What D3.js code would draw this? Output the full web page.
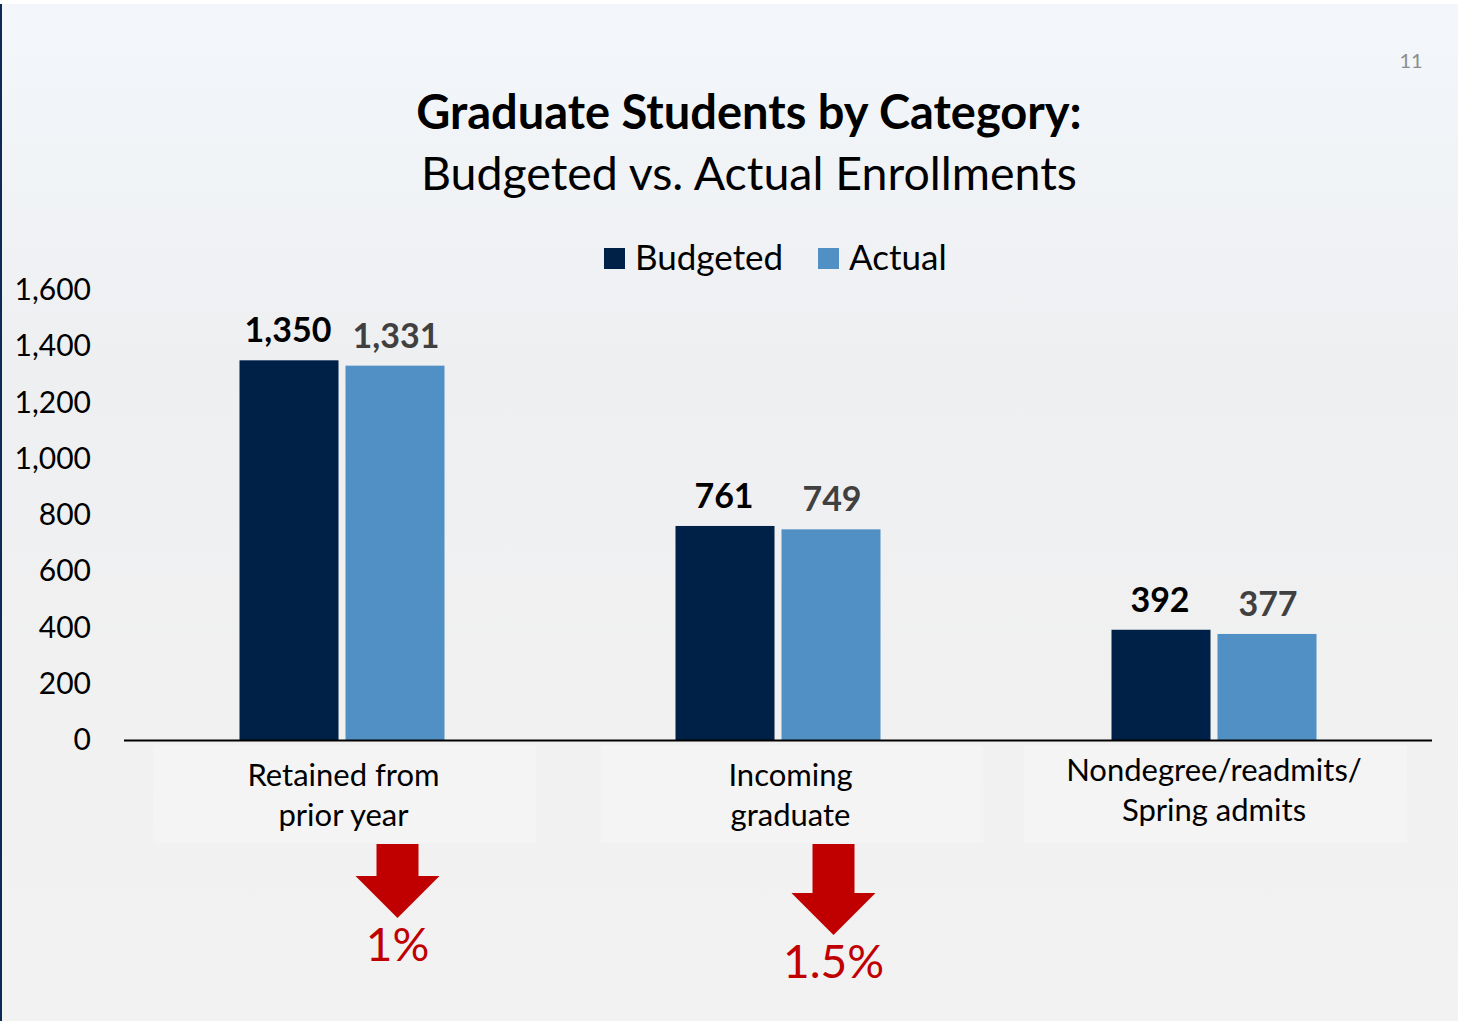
<!DOCTYPE html>
<html>
<head>
<meta charset="utf-8">
<script src="https://cdn.jsdelivr.net/npm/d3@7"></script>
<style>
  html, body { margin: 0; padding: 0; background: #fff; }
  svg { display: block; font-family: Lato, "Noto Sans", sans-serif; }
</style>
</head>
<body>
<script>
// Chart data
var categories = ["Retained from\nprior year", "Incoming\ngraduate", "Nondegree/readmits/\nSpring admits"];
var budgeted = [1350, 761, 392];
var actual = [1331, 749, 377];
var yTicks = [0, 200, 400, 600, 800, 1000, 1200, 1400, 1600];
var changeLabels = ["1%", "1.5%", null];
var seriesNames = ["Budgeted", "Actual"];
var seriesColors = ["#002147", "#5090c4"];

var width = 1458, height = 1021;

var svg = d3.select("body").append("svg")
    .attr("width", width)
    .attr("height", height);

// background gradient like the slide
var defs = svg.append("defs");
var grad = defs.append("linearGradient")
    .attr("id", "bg").attr("x1", 0).attr("y1", 0).attr("x2", 0).attr("y2", 1);
grad.append("stop").attr("offset", "0%").attr("stop-color", "#f3f7fb");
grad.append("stop").attr("offset", "35%").attr("stop-color", "#eeeff1");
grad.append("stop").attr("offset", "70%").attr("stop-color", "#f1f1f1");
grad.append("stop").attr("offset", "100%").attr("stop-color", "#f2f2f2");

svg.append("rect").attr("width", width).attr("height", height).attr("fill", "#fff");
svg.append("rect").attr("x", 0).attr("y", 4).attr("width", width).attr("height", height - 4)
    .attr("fill", "url(#bg)");
svg.append("rect").attr("x", 0).attr("y", 4).attr("width", 2).attr("height", height - 4)
    .attr("fill", "#0b2a55");

// page number
svg.append("text")
    .attr("x", 1411).attr("y", 68)
    .attr("text-anchor", "middle")
    .attr("font-size", 20).attr("fill", "#8c8c8c")
    .text("11");

// title
svg.append("text")
    .attr("x", 749).attr("y", 129)
    .attr("text-anchor", "middle")
    .attr("font-size", 47).attr("font-weight", "bold").attr("fill", "#000")
    .text("Graduate Students by Category:");
svg.append("text")
    .attr("x", 749).attr("y", 190)
    .attr("text-anchor", "middle")
    .attr("font-size", 46.5).attr("fill", "#000")
    .text("Budgeted vs. Actual Enrollments");

// legend
var legend = svg.append("g").attr("transform", "translate(604,248)");
var legendX = [0, 214];
seriesNames.forEach(function(name, i) {
  legend.append("rect")
      .attr("x", legendX[i]).attr("y", 0)
      .attr("width", 21).attr("height", 21)
      .attr("fill", seriesColors[i]);
  legend.append("text")
      .attr("x", legendX[i] + 31).attr("y", 22)
      .attr("font-size", 35).attr("fill", "#000")
      .text(name);
});

// scales
var x0 = d3.scaleBand().domain(categories).range([124, 1432]).paddingInner(0).paddingOuter(0);
var x1 = d3.scaleBand().domain(seriesNames).range([115.5, 436 - 115.5]).paddingInner(0.066);
var y = d3.scaleLinear().domain([0, 1600]).range([740, 290]);

// y axis labels (no axis line)
var yAxis = svg.append("g")
    .attr("transform", "translate(91,0)")
    .call(d3.axisLeft(y).tickValues(yTicks).tickSize(0).tickPadding(0).tickFormat(d3.format(",")));
yAxis.select(".domain").remove();
yAxis.selectAll("text")
    .attr("font-size", 30).attr("fill", "#000")
    .attr("font-family", "Lato, 'Noto Sans', sans-serif");

// label centres inside each band (the middle label sits a bit to the right)
var labelShift = [1.5, 12.5, 0];
var labelY = [776, 776, 771];

// faint boxes behind category labels
svg.selectAll("rect.catbox")
  .data(categories).enter().append("rect")
    .attr("class", "catbox")
    .attr("x", function(d, i) { return x0(d) + 28 + labelShift[i]; })
    .attr("y", 745)
    .attr("width", 383).attr("height", 98)
    .attr("fill", "#f4f4f4");

// bars
var groups = svg.selectAll("g.group")
  .data(categories).enter().append("g")
    .attr("class", "group")
    .attr("transform", function(d) { return "translate(" + x0(d) + ",0)"; });

groups.each(function(cat, ci) {
  var g = d3.select(this);
  var vals = [budgeted[ci], actual[ci]];
  vals.forEach(function(v, si) {
    g.append("rect")
        .attr("x", x1(seriesNames[si]))
        .attr("y", y(v))
        .attr("width", x1.bandwidth())
        .attr("height", y(0) - y(v))
        .attr("fill", seriesColors[si]);
    g.append("text")
        .attr("x", x1(seriesNames[si]) + x1.bandwidth() / 2 - (si === 0 ? 1 : -1))
        .attr("y", y(v) - 18)
        .attr("text-anchor", "middle")
        .attr("font-size", 34).attr("font-weight", "bold")
        .attr("fill", si === 0 ? "#000" : "#404040")
        .text(d3.format(",")(v));
  });
});

// baseline
svg.append("line")
    .attr("x1", 124).attr("x2", 1432)
    .attr("y1", y(0) + 0.5).attr("y2", y(0) + 0.5)
    .attr("stroke", "#000").attr("stroke-width", 2);

// category labels
groups.each(function(cat, ci) {
  var cx = x0.bandwidth() / 2 + labelShift[ci];
  var t = d3.select(this).append("text")
      .attr("x", cx)
      .attr("text-anchor", "middle")
      .attr("font-size", 31).attr("fill", "#000");
  cat.split("\n").forEach(function(line, li) {
    t.append("tspan")
        .attr("x", cx)
        .attr("y", labelY[ci] + 10 + li * 40)
        .text(line);
  });
});

// red down arrows with change labels
var arrowHeadY = [876, 893];
groups.each(function(cat, ci) {
  if (!changeLabels[ci]) return;
  var cx = x0.bandwidth() / 2 + 55.5;
  var top = 844, headY = arrowHeadY[ci], tip = headY + 42;
  var g = d3.select(this);
  g.append("path")
      .attr("d", "M" + (cx - 21) + "," + top +
                 " L" + (cx + 21) + "," + top +
                 " L" + (cx + 21) + "," + headY +
                 " L" + (cx + 42) + "," + headY +
                 " L" + cx + "," + tip +
                 " L" + (cx - 42) + "," + headY +
                 " L" + (cx - 21) + "," + headY + " Z")
      .attr("fill", "#c00000");
  g.append("text")
      .attr("x", cx).attr("y", tip + 43)
      .attr("text-anchor", "middle")
      .attr("font-size", 46).attr("fill", "#c00000")
      .text(changeLabels[ci]);
});
</script>
</body>
</html>
